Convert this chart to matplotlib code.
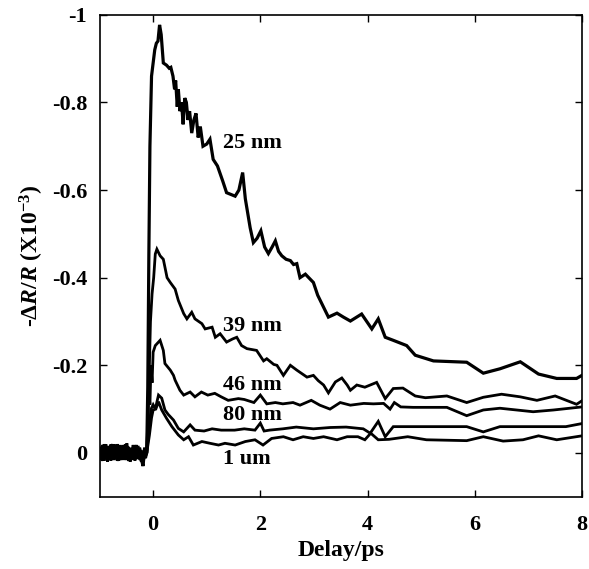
import matplotlib
matplotlib.use("Agg")
import matplotlib.pyplot as plt

plt.rcParams['font.family'] = ['Liberation Serif', 'DejaVu Serif']
plt.rcParams['font.weight'] = 'bold'
plt.rcParams['mathtext.fontset'] = 'custom'
plt.rcParams['mathtext.rm'] = 'Liberation Serif:bold'
plt.rcParams['mathtext.it'] = 'Liberation Serif:italic:bold'
plt.rcParams['mathtext.bf'] = 'Liberation Serif:bold'
plt.rcParams['axes.unicode_minus'] = False

# ---------------- data ----------------
pre_x = [-1.00, -0.97, -0.94, -0.91, -0.88, -0.85, -0.82, -0.79, -0.76, -0.73,
         -0.70, -0.67, -0.64, -0.61, -0.58, -0.55, -0.52, -0.49, -0.46, -0.43,
         -0.40, -0.37, -0.34, -0.31, -0.28, -0.25, -0.22, -0.19, -0.16, -0.14]

pre_25 = [0.000, -0.014, 0.010, -0.020, 0.012, -0.006, 0.016, -0.018, 0.006, -0.012,
          0.014, -0.020, 0.004, -0.014, 0.016, -0.006, 0.012, -0.016, 0.008, -0.010,
          0.014, -0.018, 0.006, -0.012, 0.010, -0.006, 0.012, 0.030, -0.004, 0.006]
pre_39 = [0.008, 0.016, -0.012, 0.006, -0.020, 0.014, -0.006, 0.018, -0.014, 0.010,
          -0.018, 0.012, -0.010, 0.016, -0.008, 0.014, -0.020, 0.010, -0.012, 0.016,
          -0.004, 0.012, -0.016, 0.010, -0.010, 0.016, -0.006, 0.018, 0.010, -0.008]
pre_46 = [-0.010, 0.006, 0.018, -0.016, 0.004, 0.020, -0.014, 0.008, 0.016, -0.020,
          0.006, 0.014, -0.016, 0.010, 0.002, -0.018, 0.014, 0.004, 0.018, -0.008,
          0.012, -0.014, 0.016, 0.004, -0.016, 0.010, 0.020, 0.006, -0.012, 0.004]
pre_80 = [0.012, -0.006, -0.018, 0.014, 0.008, -0.016, 0.012, -0.008, -0.020, 0.016,
          0.002, -0.012, 0.018, -0.006, -0.016, 0.010, 0.004, -0.022, 0.014, 0.006,
          -0.012, 0.016, -0.004, -0.018, 0.012, -0.008, 0.014, 0.024, -0.010, 0.012]
pre_1u = [-0.006, 0.012, -0.008, 0.018, -0.014, 0.006, 0.014, -0.020, 0.012, 0.004,
          -0.014, 0.018, 0.006, -0.018, 0.012, -0.010, 0.016, 0.002, -0.014, 0.020,
          0.008, -0.010, 0.018, -0.006, 0.014, -0.012, 0.004, 0.016, 0.006, -0.006]

x_25 = [-0.12, -0.10, -0.08, -0.06, -0.03, -0.01, 0.03, 0.06, 0.09, 0.12, 0.15, 0.19, 0.25,
        0.30, 0.33, 0.37, 0.40, 0.42, 0.45, 0.47, 0.50, 0.53, 0.56, 0.59, 0.62, 0.65, 0.68,
        0.72, 0.76, 0.80, 0.84, 0.88, 0.93, 1.00, 1.06, 1.12, 1.20, 1.30, 1.37, 1.45, 1.53,
        1.60, 1.67, 1.72, 1.81, 1.87, 1.94, 2.01, 2.08, 2.15, 2.22, 2.28, 2.34, 2.40, 2.48,
        2.56, 2.62, 2.68, 2.74, 2.84, 2.99, 3.07, 3.15, 3.27, 3.43, 3.55, 3.68, 3.89, 4.08,
        4.20, 4.33, 4.48, 4.73, 4.89, 5.23, 5.85, 6.16, 6.47, 6.85, 7.19, 7.53, 7.90, 8.00]
y_25 = [0.000, -0.150, -0.450, -0.700, -0.860, -0.880, -0.920, -0.935, -0.940, -0.977, -0.955,
        -0.890, -0.885, -0.878, -0.880, -0.860, -0.830, -0.850, -0.790, -0.830, -0.780, -0.800,
        -0.750, -0.810, -0.800, -0.760, -0.780, -0.730, -0.760, -0.775, -0.720, -0.745, -0.700,
        -0.705, -0.716, -0.670, -0.655, -0.620, -0.594, -0.590, -0.586, -0.600, -0.640, -0.580,
        -0.514, -0.480, -0.490, -0.507, -0.470, -0.455, -0.470, -0.484, -0.460, -0.450, -0.442,
        -0.439, -0.430, -0.432, -0.400, -0.408, -0.389, -0.360, -0.340, -0.310, -0.319, -0.310,
        -0.301, -0.317, -0.283, -0.306, -0.264, -0.257, -0.245, -0.223, -0.210, -0.207, -0.182,
        -0.192, -0.208, -0.180, -0.170, -0.170, -0.177]

x_39 = [-0.12, -0.08, -0.05, -0.02, 0.01, 0.04, 0.07, 0.13, 0.19, 0.26, 0.32, 0.41, 0.47, 0.57,
        0.63, 0.72, 0.78, 0.91, 0.97, 1.10, 1.16, 1.25, 1.37, 1.48, 1.56, 1.65, 1.75, 1.93, 2.06,
        2.12, 2.25, 2.31, 2.43, 2.56, 2.68, 2.87, 2.99, 3.08, 3.18, 3.27, 3.40, 3.52, 3.62, 3.68,
        3.80, 3.95, 4.17, 4.33, 4.48, 4.66, 4.89, 5.08, 5.48, 5.85, 6.16, 6.50, 6.85, 7.16, 7.50,
        7.90, 8.00]
y_39 = [0.000, -0.150, -0.300, -0.363, -0.400, -0.454, -0.465, -0.450, -0.442, -0.400, -0.389,
        -0.374, -0.348, -0.318, -0.306, -0.321, -0.306, -0.295, -0.283, -0.287, -0.264, -0.272,
        -0.253, -0.260, -0.264, -0.245, -0.238, -0.234, -0.210, -0.215, -0.202, -0.200, -0.177,
        -0.200, -0.189, -0.173, -0.177, -0.165, -0.155, -0.137, -0.162, -0.171, -0.155, -0.143,
        -0.155, -0.150, -0.161, -0.124, -0.147, -0.148, -0.130, -0.126, -0.130, -0.115, -0.127,
        -0.134, -0.128, -0.120, -0.130, -0.111, -0.119]

x_46 = [-0.12, -0.10, -0.08, -0.06, -0.04, -0.02, 0.00, 0.04, 0.13, 0.19, 0.22, 0.32, 0.38,
        0.41, 0.50, 0.57, 0.69, 0.78, 0.90, 1.02, 1.15, 1.27, 1.40, 1.59, 1.70, 1.88, 2.00,
        2.12, 2.28, 2.42, 2.61, 2.74, 2.95, 3.11, 3.30, 3.49, 3.68, 3.93, 4.11, 4.30, 4.42,
        4.50, 4.62, 4.85, 5.48, 5.85, 6.16, 6.47, 7.09, 7.47, 8.00]
y_46 = [0.000, -0.060, -0.140, -0.110, -0.200, -0.160, -0.230, -0.245, -0.257, -0.234, -0.204,
        -0.189, -0.177, -0.166, -0.143, -0.132, -0.139, -0.128, -0.139, -0.132, -0.136, -0.128,
        -0.120, -0.124, -0.122, -0.115, -0.132, -0.112, -0.115, -0.112, -0.115, -0.109, -0.120,
        -0.109, -0.100, -0.115, -0.109, -0.113, -0.112, -0.113, -0.100, -0.115, -0.105, -0.104,
        -0.104, -0.085, -0.098, -0.102, -0.094, -0.098, -0.105]

x_80 = [-0.12, -0.08, -0.04, 0.00, 0.04, 0.10, 0.16, 0.22, 0.28, 0.38, 0.47, 0.57, 0.69, 0.78,
        0.95, 1.10, 1.27, 1.52, 1.70, 1.90, 2.00, 2.07, 2.17, 2.42, 2.67, 2.99, 3.30, 3.60, 3.92,
        4.05, 4.20, 4.33, 4.48, 4.75, 5.23, 5.85, 6.16, 6.47, 7.09, 7.70, 8.00]
y_80 = [0.000, -0.050, -0.100, -0.110, -0.100, -0.132, -0.125, -0.098, -0.088, -0.075, -0.056,
        -0.048, -0.064, -0.052, -0.050, -0.055, -0.052, -0.052, -0.055, -0.052, -0.068, -0.050,
        -0.052, -0.055, -0.059, -0.055, -0.058, -0.059, -0.055, -0.045, -0.072, -0.037, -0.060,
        -0.060, -0.060, -0.060, -0.048, -0.060, -0.060, -0.060, -0.067]

x_1u = [-0.12, -0.07, -0.03, 0.00, 0.05, 0.10, 0.16, 0.25, 0.35, 0.47, 0.57, 0.66, 0.75, 0.91,
        1.06, 1.22, 1.34, 1.53, 1.72, 1.90, 2.05, 2.21, 2.43, 2.61, 2.80, 2.99, 3.18, 3.43, 3.62,
        3.82, 3.95, 4.06, 4.20, 4.40, 4.75, 5.10, 5.85, 6.16, 6.53, 6.90, 7.19, 7.53, 8.00]
y_1u = [0.000, -0.040, -0.080, -0.098, -0.100, -0.117, -0.098, -0.079, -0.060, -0.041, -0.030,
        -0.037, -0.018, -0.026, -0.022, -0.018, -0.022, -0.018, -0.026, -0.030, -0.018, -0.033,
        -0.037, -0.030, -0.037, -0.033, -0.037, -0.030, -0.037, -0.037, -0.030, -0.045, -0.030,
        -0.031, -0.037, -0.030, -0.028, -0.037, -0.027, -0.030, -0.039, -0.030, -0.039]

labels = ["25 nm", "39 nm", "46 nm", "80 nm", "1 um"]
label_x = [1.31, 1.31, 1.31, 1.31, 1.31]
label_y = [-0.707, -0.289, -0.156, -0.087, 0.015]

xticks = [0, 2, 4, 6, 8]
yticks = [-1, -0.8, -0.6, -0.4, -0.2, 0]
ytick_labels = ["-1", "-0.8", "-0.6", "-0.4", "-0.2", "0"]

# ---------------- plot ----------------
fig = plt.figure(figsize=(5.89, 5.69), dpi=100)
ax = fig.add_axes([0.169, 0.127, 0.819, 0.847])

series = [(pre_25, x_25, y_25, 2.3), (pre_39, x_39, y_39, 2.0), (pre_46, x_46, y_46, 2.0),
          (pre_80, x_80, y_80, 2.0), (pre_1u, x_1u, y_1u, 2.0)]
for pre, xs, ys, lw in series:
    ax.plot(pre_x + xs, pre + ys, color='black', lw=lw, solid_joinstyle='miter')

for t, tx, ty in zip(labels, label_x, label_y):
    ax.text(tx, ty, t, fontsize=16, fontweight='bold', ha='left', va='center')

ax.set_xlim(-1, 8)
ax.set_ylim(0.1, -1.0)
ax.set_xticks(xticks)
ax.set_xticklabels([str(v) for v in xticks])
ax.set_yticks(yticks)
ax.set_yticklabels(ytick_labels)
ax.tick_params(direction='in', length=5, width=1.0, top=True, right=True,
               labelsize=16, pad=9)
ax.tick_params(axis='x', pad=13)
for s in ax.spines.values():
    s.set_linewidth(1.2)

ax.set_xlabel("Delay/ps", fontsize=17, fontweight='bold', labelpad=4)
ax.set_ylabel(r"-$\mathit{\Delta R/R}$ (X10$^{-3}$)", fontsize=17, fontweight='bold', labelpad=4)

fig.savefig("out.png", dpi=100)
